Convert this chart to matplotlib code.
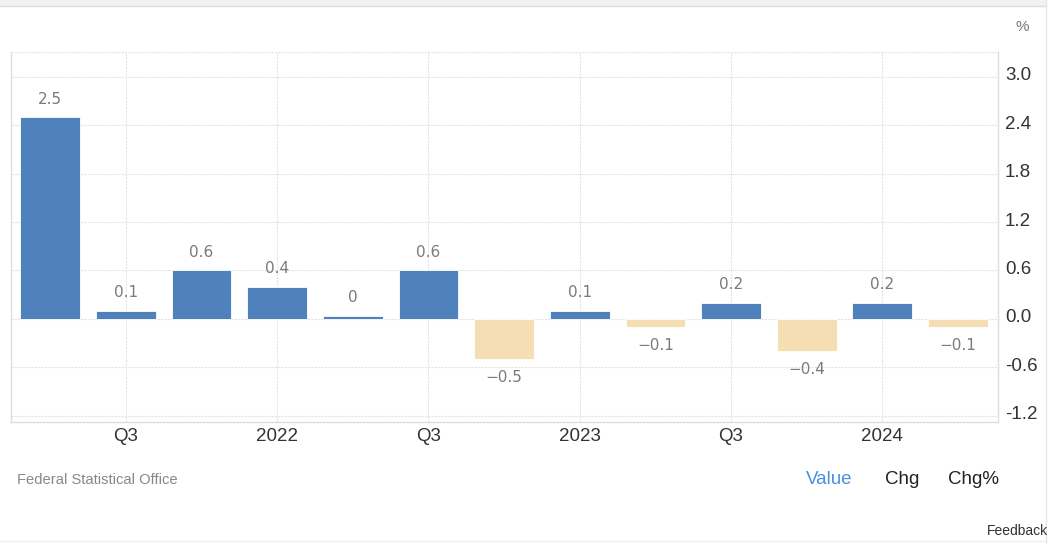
import matplotlib
matplotlib.use("Agg")
import matplotlib.pyplot as plt
import matplotlib.transforms as mtransforms
from matplotlib.patches import Rectangle
from matplotlib.lines import Line2D

# ---- data ----
quarters = ["Q2 2021", "Q3 2021", "Q4 2021", "Q1 2022", "Q2 2022", "Q3 2022", "Q4 2022",
            "Q1 2023", "Q2 2023", "Q3 2023", "Q4 2023", "Q1 2024", "Q2 2024"]
values = [2.5, 0.1, 0.6, 0.4, 0.04, 0.6, -0.5, 0.1, -0.1, 0.2, -0.4, 0.2, -0.1]
xtick_idx = [1, 3, 5, 7, 9, 11]
xtick_labels = ["Q3", "2022", "Q3", "2023", "Q3", "2024"]
yticks = [-1.2, -0.6, 0.0, 0.6, 1.2, 1.8, 2.4, 3.0]

POS = "#4f81bd"
NEG = "#f5deb3"
GRID = "#e3e3e3"

fig = plt.figure(figsize=(10.52, 5.44), dpi=100)
fig.patch.set_facecolor("white")

W, H = 1052, 544
def fx(px): return px / W
def fy(py): return 1 - py / H

ax = fig.add_axes([fx(11), fy(422), fx(998) - fx(11), fy(52) - fy(422)])
x = list(range(len(values)))
colors = [POS if v >= 0 else NEG for v in values]
ax.bar(x, values, width=0.79, color=colors, edgecolor="white", linewidth=0.6, zorder=3)

YMIN, YMAX = -1.28, 3.31
ax.set_xlim(-0.52, 12.53)
ax.set_ylim(YMIN, YMAX)

ax.yaxis.tick_right()
ax.set_yticks(yticks)
ax.set_yticklabels([f"{t:.1f}" for t in yticks], fontsize=13.5, color="#333333",
                   family="Liberation Sans")
ax.set_xticks(xtick_idx)
ax.set_xticklabels(xtick_labels, fontsize=13.5, color="#333333", family="Liberation Sans")
ax.tick_params(axis="both", length=0, pad=4)
ax.tick_params(axis="y", pad=5)
shift = mtransforms.ScaledTranslation(0, 3 / 100, fig.dpi_scale_trans)
for lab in ax.get_yticklabels():
    lab.set_transform(lab.get_transform() + shift)

ax.grid(True, color=GRID, linestyle=(0, (2, 1)), linewidth=0.8, zorder=0)
ax.axhline(YMAX, color=GRID, linestyle=(0, (2, 1)), linewidth=0.8, zorder=0)
ax.spines["top"].set_visible(False)
for s in ["left", "bottom", "right"]:
    ax.spines[s].set_color("#dddddd")
    ax.spines[s].set_linewidth(1.0)

# value labels
for xi, v in zip(x, values):
    r = round(v, 1)
    lab = f"{r:g}".replace("-", "\u2212")
    if r == 0:
        lab = "0"
    off = 13 if v >= 0 else -13.5
    ax.annotate(lab, (xi, v), xytext=(0, off), textcoords="offset points",
                ha="center", va="center", fontsize=11, color="#7a7a7a",
                family="DejaVu Sans")

# decorations
fig.text(fx(1022), fy(27), "%", fontsize=11, color="#777777", ha="center", va="center",
         family="Liberation Sans")
fig.text(fx(17), fy(480), "Federal Statistical Office", fontsize=10.6, color="#888888",
         ha="left", va="center", family="Liberation Sans")
fig.text(fx(806), fy(480), "Value", fontsize=13.5, color="#4a90e2", ha="left", va="center",
         family="Liberation Sans")
fig.text(fx(885), fy(480), "Chg", fontsize=13.5, color="#222222", ha="left", va="center",
         family="Liberation Sans")
fig.text(fx(948), fy(480), "Chg%", fontsize=13.5, color="#222222", ha="left", va="center",
         family="Liberation Sans")
fig.text(fx(987), fy(531), "Feedback", fontsize=10, color="#333333", ha="left", va="center",
         family="Liberation Sans")

# top gray band and frame lines
fig.patches.append(Rectangle((0, fy(6)), fx(1046), 1 - fy(6), transform=fig.transFigure,
                             facecolor="#f2f2f2", edgecolor="none", zorder=0))
fig.lines.append(Line2D([0, fx(1046)], [fy(6), fy(6)], transform=fig.transFigure,
                        color="#dddddd", linewidth=1))
fig.lines.append(Line2D([fx(1046), fx(1046)], [0, 1], transform=fig.transFigure,
                        color="#e6e6e6", linewidth=1))
fig.lines.append(Line2D([0, fx(1046)], [fy(541), fy(541)], transform=fig.transFigure,
                        color="#eeeeee", linewidth=1))

fig.savefig("out.png", dpi=100, facecolor="white")
